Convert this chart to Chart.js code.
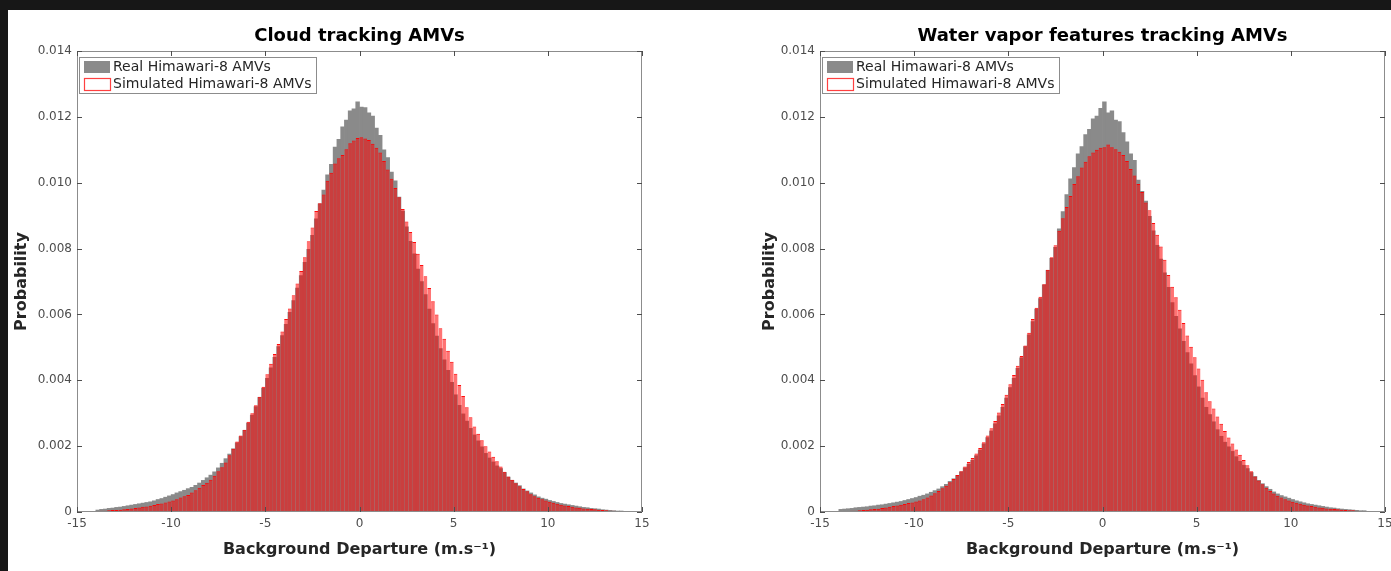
<!DOCTYPE html>
<html>
<head>
<meta charset="utf-8">
<script src="https://cdn.jsdelivr.net/npm/chart.js@4.4.1/dist/chart.umd.min.js"></script>
<style>
html, body { margin: 0; padding: 0; width: 1391px; height: 571px; overflow: hidden; background: #171717; }
#panel { position: absolute; left: 8px; top: 10px; width: 1383px; height: 561px; background: #fff; }
.plot { position: absolute; top: 10px; width: 684px; height: 561px; }
</style>
</head>
<body>
<div id="panel"></div>
<div class="plot" style="left:8px"><canvas id="cloud" width="684" height="561"></canvas></div>
<div class="plot" style="left:751px"><canvas id="wv" width="684" height="561"></canvas></div>
<script>
// histogram bins: 0.2 m/s wide, starting at -14
const binStart = -14
const binWidth = 0.2

// probability x 10^4, one value per bin
const cloudReal = [
  0.6,0.8,0.9,1.1,1.2,1.4,1.5,1.7,1.9,2.1,
  2.3,2.5,2.7,2.9,3.1,3.4,3.8,4.1,4.5,4.9,
  5.3,5.8,6.2,6.6,7.1,7.5,8.1,8.8,9.6,10.4,
  11.2,12.2,13.4,14.8,16.2,17.6,19.2,21.0,22.9,24.8,
  27.0,29.4,32.0,34.8,37.6,40.6,43.8,47.0,50.2,53.6,
  57.0,60.6,64.2,68.0,71.8,75.8,79.8,84.0,89.0,93.6,
  97.8,102.4,105.6,110.8,113.2,117.0,119.0,121.8,122.4,124.6,
  123.0,122.8,121.2,120.2,116.6,114.4,110.0,107.6,103.2,100.6,
  95.6,91.4,86.6,82.2,78.4,73.8,70.0,66.0,61.6,57.2,
  53.4,49.6,46.2,43.0,39.4,35.6,32.4,29.8,27.6,25.4,
  23.4,21.6,19.8,17.8,16.4,15.2,14.0,13.2,12.0,10.6,
  9.6,8.8,8.0,7.0,6.4,5.8,5.2,4.6,4.2,3.9,
  3.5,3.2,2.9,2.6,2.4,2.2,2.0,1.8,1.6,1.4,
  1.3,1.1,1.0,0.9,0.7,0.6,0.5,0.4,0.3,0.3
]
const cloudSim = [
  0.3,0.4,0.4,0.5,0.6,0.6,0.7,0.8,0.9,1.1,
  1.2,1.4,1.6,1.7,1.9,2.1,2.4,2.6,2.9,3.2,
  3.5,3.9,4.4,4.8,5.2,5.9,6.6,7.4,8.2,8.9,
  9.8,11.0,12.4,13.6,15.0,17.2,19.2,21.4,23.2,25.0,
  27.4,30.0,32.4,35.0,38.0,41.8,45.0,48.0,51.0,54.8,
  58.6,61.8,65.8,69.4,73.2,77.4,82.2,86.4,91.4,93.8,
  96.4,100.6,103.0,105.8,107.4,108.4,110.2,112.0,112.8,113.6,
  113.8,113.4,113.0,111.8,110.6,109.2,106.6,104.0,101.2,98.4,
  95.6,92.0,88.2,85.0,82.0,78.4,75.0,71.6,68.0,64.0,
  60.0,55.8,52.6,49.0,45.6,42.0,38.6,35.2,31.8,28.8,
  26.0,23.8,21.8,20.0,18.4,16.8,15.4,13.8,12.2,10.8,
  9.8,8.7,7.8,7.0,6.3,5.4,4.8,4.3,3.9,3.5,
  3.1,2.8,2.5,2.2,2.0,1.8,1.6,1.4,1.3,1.1,
  1.0,0.9,0.8,0.7,0.6,0.5,0.4,0.4,0.3,0.2
]
const wvReal = [
  0.8,0.9,1.0,1.1,1.3,1.4,1.5,1.6,1.8,1.9,
  2.1,2.2,2.4,2.6,2.8,3.0,3.2,3.5,3.8,4.1,
  4.4,4.8,5.1,5.5,6.0,6.5,7.0,7.7,8.4,9.3,
  10.1,11.1,12.2,13.4,14.5,15.7,17.1,18.8,20.7,22.6,
  24.6,26.8,29.2,31.8,34.6,37.8,40.6,43.6,46.8,50.2,
  53.8,57.8,61.6,64.8,69.0,73.4,77.0,80.4,86.0,91.2,
  96.4,101.2,104.6,108.8,111.0,114.6,116.2,119.4,120.2,122.6,
  124.6,121.2,121.8,119.0,118.6,115.2,112.4,108.8,106.8,100.8,
  97.4,94.4,89.8,85.4,81.0,76.8,72.6,68.2,63.6,59.4,
  55.6,51.8,48.4,45.0,41.4,38.0,34.6,31.8,29.6,27.4,
  25.0,23.0,21.2,19.8,18.4,16.8,15.4,14.2,13.2,12.0,
  10.8,9.6,8.6,7.7,6.9,6.1,5.5,5.0,4.6,4.2,
  3.8,3.4,3.1,2.8,2.5,2.3,2.1,1.9,1.7,1.5,
  1.3,1.2,1.0,0.9,0.8,0.7,0.6,0.5,0.4,0.4
]
const wvSim = [
  0.2,0.3,0.3,0.4,0.4,0.5,0.6,0.7,0.8,0.9,
  1.0,1.2,1.4,1.6,1.8,2.0,2.2,2.4,2.7,2.9,
  3.2,3.5,3.9,4.4,5.0,5.7,6.4,7.2,8.0,9.0,
  10.0,11.2,12.4,13.8,15.2,16.4,17.8,19.4,21.2,23.2,
  25.4,27.6,30.2,32.8,35.6,38.8,41.6,44.4,47.4,50.6,
  54.4,58.6,62.0,65.4,69.2,73.6,77.4,81.0,85.4,89.2,
  92.6,96.0,99.6,102.0,104.6,106.4,108.0,109.2,110.0,110.6,
  110.8,111.6,110.8,110.2,109.4,108.4,106.6,104.2,102.2,99.6,
  97.2,94.0,91.6,87.8,84.2,80.6,76.6,72.0,68.4,65.2,
  61.4,57.4,53.6,50.2,47.0,43.6,40.2,36.4,33.6,31.4,
  29.0,26.8,24.6,22.6,20.8,19.0,17.4,15.8,14.2,12.4,
  10.8,9.6,8.4,7.4,6.4,5.6,4.9,4.4,3.9,3.5,
  3.1,2.8,2.5,2.2,2.0,1.8,1.6,1.4,1.3,1.1,
  1.0,0.9,0.8,0.7,0.6,0.5,0.5,0.4,0.3,0.3
]

const realLabel = "Real Himawari-8 AMVs"
const simLabel = "Simulated Himawari-8 AMVs"
const xTitle = "Background Departure (m.s⁻¹)"
const yTitle = "Probability"

Chart.defaults.font.family = "'DejaVu Sans', sans-serif"

const toPoints = (vals) => vals.map((v, i) => ({ x: binStart + binWidth * (i + 0.5), y: v }))

// matlab style box with inward ticks + legend inside the axes
const matlabAxes = {
  id: 'matlabAxes',
  afterDraw(chart) {
    const { ctx, chartArea: a, scales: { x, y } } = chart
    ctx.save()
    ctx.lineWidth = 1
    ctx.strokeStyle = '#8c8c8c'
    ctx.strokeRect(a.left + 0.5, a.top + 0.5, a.width - 1, a.height - 1)

    ctx.strokeStyle = '#4d4d4d'
    ctx.beginPath()
    x.ticks.forEach(t => {
      const px = Math.round(x.getPixelForValue(t.value)) + 0.5
      ctx.moveTo(px, a.bottom); ctx.lineTo(px, a.bottom - 5)
      ctx.moveTo(px, a.top); ctx.lineTo(px, a.top + 5)
    })
    y.ticks.forEach(t => {
      const py = Math.round(y.getPixelForValue(t.value)) + 0.5
      ctx.moveTo(a.left, py); ctx.lineTo(a.left + 5, py)
      ctx.moveTo(a.right, py); ctx.lineTo(a.right - 5, py)
    })
    ctx.stroke()

    // legend
    const lx = a.left + 2, ly = a.top + 6
    ctx.fillStyle = '#fff'
    ctx.fillRect(lx, ly, 237, 36)
    ctx.strokeStyle = '#8c8c8c'
    ctx.strokeRect(lx + 0.5, ly + 0.5, 237, 36)
    const ds = chart.data.datasets
    ctx.fillStyle = ds[0].backgroundColor
    ctx.fillRect(lx + 5, ly + 4, 26, 12)
    ctx.fillStyle = '#fff'
    ctx.fillRect(lx + 5, ly + 21, 26, 12)
    ctx.strokeStyle = 'rgba(255,0,0,0.75)'
    ctx.lineWidth = 1.2
    ctx.strokeRect(lx + 5.5, ly + 21.5, 26, 12)
    ctx.fillStyle = '#262626'
    ctx.font = "14px 'DejaVu Sans'"
    ctx.textBaseline = 'middle'
    ctx.fillText(ds[0].label, lx + 34, ly + 10.5)
    ctx.fillText(ds[1].label, lx + 34, ly + 27)
    ctx.restore()
  }
}

function drawHist(id, title, real, sim, yTitlePad) {
  return new Chart(document.getElementById(id), {
    type: 'bar',
    data: {
      datasets: [
        { label: realLabel, data: toPoints(real), backgroundColor: '#8a8a8a', borderWidth: 0, order: 2 },
        { label: simLabel, data: toPoints(sim), backgroundColor: 'rgba(255,0,0,0.55)',
          borderColor: 'rgba(255,0,0,0.95)', borderWidth: { top: 1, left: 0.25, right: 0.25, bottom: 0 },
          inflateAmount: 0, order: 1 }
      ]
    },
    options: {
      responsive: false,
      animation: false,
      layout: { padding: { left: 0, top: 0, right: 50, bottom: 0 } },
      datasets: { bar: { grouped: false, barPercentage: 1, categoryPercentage: 1 } },
      plugins: {
        legend: { display: false },
        tooltip: { enabled: false },
        title: {
          display: true, text: title, fullSize: false, color: '#000',
          font: { size: 18, weight: 'bold', lineHeight: 1.2 },
          padding: { top: 16, bottom: 3.4 }
        }
      },
      scales: {
        x: {
          type: 'linear', min: -15, max: 15, offset: false,
          grid: { display: false, drawTicks: false },
          border: { display: false },
          ticks: { stepSize: 5, color: '#4d4d4d', font: { size: 12 }, padding: 5, maxRotation: 0 },
          title: { display: true, text: xTitle, color: '#262626',
            font: { size: 16, weight: 'bold', lineHeight: 1.2 }, padding: { top: 0, bottom: 12 } },
          afterFit(scale) { scale.height = 59 }
        },
        y: {
          min: 0, max: 140,
          grid: { display: false, drawTicks: false },
          border: { display: false },
          ticks: { stepSize: 20, color: '#4d4d4d', font: { size: 12 }, padding: 5,
            callback: v => v === 0 ? '0' : (v / 1e4).toFixed(3) },
          title: { display: true, text: yTitle, color: '#262626',
            font: { size: 16, weight: 'bold', lineHeight: 1.2 }, padding: { top: yTitlePad, bottom: 0 } },
          afterFit(scale) { scale.width = 69 }
        }
      }
    },
    plugins: [matlabAxes]
  })
}

drawHist('cloud', 'Cloud tracking AMVs', cloudReal, cloudSim, 4)
drawHist('wv', 'Water vapor features tracking AMVs', wvReal, wvSim, 9)
</script>
</body>
</html>
